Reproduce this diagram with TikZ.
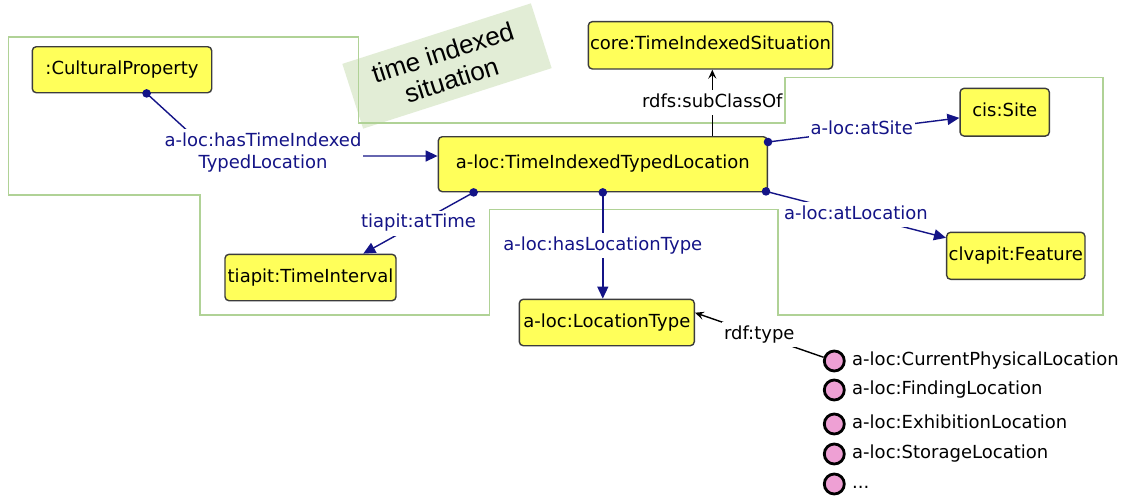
\documentclass[tikz,border=0pt]{standalone}
\usepackage{fontspec}
\setmainfont{DejaVu Sans}
\newfontfamily\tisfont{Liberation Sans}
\usetikzlibrary{arrows.meta,calc}
\definecolor{boxyellow}{RGB}{255,255,90}
\definecolor{boxborder}{RGB}{60,60,60}
\definecolor{navy}{RGB}{20,20,135}
\definecolor{outlinegreen}{RGB}{176,210,150}
\definecolor{tisgreen}{RGB}{226,237,214}
\definecolor{indpink}{RGB}{238,160,212}
\begin{document}
\begin{tikzpicture}[x=1pt,y=-1pt,
  cls/.style={draw=boxborder, line width=1.4pt, fill=boxyellow, rounded corners=4pt,
    font=\fontsize{18}{20}\selectfont, text height=13pt, text depth=4pt, inner sep=0pt},
  elabel/.style={fill=white, text=navy, font=\fontsize{18}{21.6}\selectfont,
    text height=13pt, text depth=4pt, inner xsep=2pt, inner ysep=4pt},
  elabeltwo/.style={fill=white, text=navy, font=\fontsize{18}{21.6}\selectfont,
    align=center, inner xsep=2pt, inner ysep=4pt},
  blabel/.style={fill=white, text=black, font=\fontsize{18}{21.6}\selectfont,
    text height=13pt, text depth=4pt, inner xsep=2pt, inner ysep=4pt},
  objprop/.style={draw=navy, line width=1.4pt, -{Triangle[length=12pt,width=11pt]}},
  isa/.style={draw=black, line width=1.4pt, -{Stealth[length=9pt,width=8pt,inset=3.5pt]}},
  propdot/.style={fill=navy},
  ind/.style={circle, draw=black, line width=2.8pt, fill=indpink, minimum size=20pt, inner sep=0pt},
  ilabel/.style={anchor=west, font=\fontsize{18}{20}\selectfont, text height=13pt, text depth=4pt, inner sep=1pt},
  region/.style={draw=outlinegreen, line width=1.6pt}
]
\useasboundingbox (0,0) rectangle (1122,498);
\fill[white] (0,0) rectangle (1122,498);

% time indexed situation note
\node[fill=tisgreen, rotate=17.8, minimum width=198pt, minimum height=68pt, inner sep=0pt,
  align=center, font=\tisfont\fontsize{26}{28.5}\selectfont] (tis) at (447,66) {time indexed\\situation};

% region outline
\draw[region] (8.3,36.7) -- (358.3,36.7) -- (358.3,122.7) -- (785,122.7) -- (785,77.3)
  -- (1103,77.3) -- (1103,315) -- (777.7,315) -- (777.7,209.3) -- (489.3,209.3)
  -- (489.3,315) -- (200,315) -- (200,195) -- (8.3,195) -- cycle;

% classes
\node[cls, minimum width=329pt, minimum height=55pt] (main) at (602.8,164.2) {a-loc:TimeIndexedTypedLocation};
\node[cls, minimum width=244.4pt, minimum height=47.3pt] (core) at (710.5,45.3) {core:TimeIndexedSituation};
\node[cls, minimum width=179.4pt, minimum height=46pt] (cp) at (122,69.7) {:CulturalProperty};
\node[cls, minimum width=89.3pt, minimum height=47.7pt] (site) at (1004.7,112.2) {cis:Site};
\node[cls, minimum width=138.3pt, minimum height=47pt] (feat) at (1015.8,255.8) {clvapit:Feature};
\node[cls, minimum width=171pt, minimum height=46.4pt] (ti) at (310.5,277.5) {tiapit:TimeInterval};
\node[cls, minimum width=175pt, minimum height=46.4pt] (lt) at (606.8,322.5) {a-loc:LocationType};

% connector points
\coordinate (dCP) at ($(cp.south west)+(115,0)$);
\coordinate (bendCP) at (215,156);
\coordinate (inMain) at ($(main.west)+(0,-8.2)$);
\coordinate (dTime) at ($(main.south west)+(36,0)$);
\coordinate (tTime) at ($(ti.north)+(52.8,0)$);
\coordinate (dLT) at (main.south);
\coordinate (dSite) at ($(main.north east)+(0,6)$);
\coordinate (dLoc) at ($(main.south east)+(-2,-1)$);
\coordinate (sSub) at ($(main.north)+(109.5,0)$);
\coordinate (tType) at ($(lt.east)+(0,-9.8)$);

% individuals
\node[ind] (ind1) at (834.3,361) {};
\node[ind] (ind2) at (834.3,390) {};
\node[ind] (ind3) at (834.3,424) {};
\node[ind] (ind4) at (834.3,454) {};
\node[ind] (ind5) at (834.3,484) {};
\node[ilabel] (t1) at (851,361) {a-loc:CurrentPhysicalLocation};
\node[ilabel] (t2) at (851,390) {a-loc:FindingLocation};
\node[ilabel] (t3) at (851,424) {a-loc:ExhibitionLocation};
\node[ilabel] (t4) at (851,454) {a-loc:StorageLocation};
\node[ilabel] (t5) at (851,484) {...};

% object properties
\draw[objprop] (dCP) -- (bendCP) -- (inMain);
\node[elabeltwo] (lHTI) at (263,152.5) {a-loc:hasTimeIndexed\\TypedLocation};
\draw[objprop] (dTime) -- node[elabel] (lTime) {tiapit:atTime} (tTime);
\draw[objprop] (dLT) -- node[elabel] (lLT) {a-loc:hasLocationType} (dLT |- lt.north);
\draw[objprop] (dSite) -- node[elabel, pos=0.49] (lSite) {a-loc:atSite} (site);
\draw[objprop] (dLoc) -- node[elabel] (lLoc) {a-loc:atLocation} (feat);

% subclass and type
\draw[isa] (sSub) -- node[blabel] (lSub) {rdfs:subClassOf} (sSub |- core.south);
\draw[isa] (ind1) -- node[blabel] (lType) {rdf:type} (tType);

% property dots
\fill[propdot] (dCP) circle (4.3pt);
\fill[propdot] (dTime) circle (4.3pt);
\fill[propdot] (dLT) circle (4.3pt);
\fill[propdot] (dSite) circle (4.3pt);
\fill[propdot] (dLoc) circle (4.3pt);
\end{tikzpicture}
\end{document}
